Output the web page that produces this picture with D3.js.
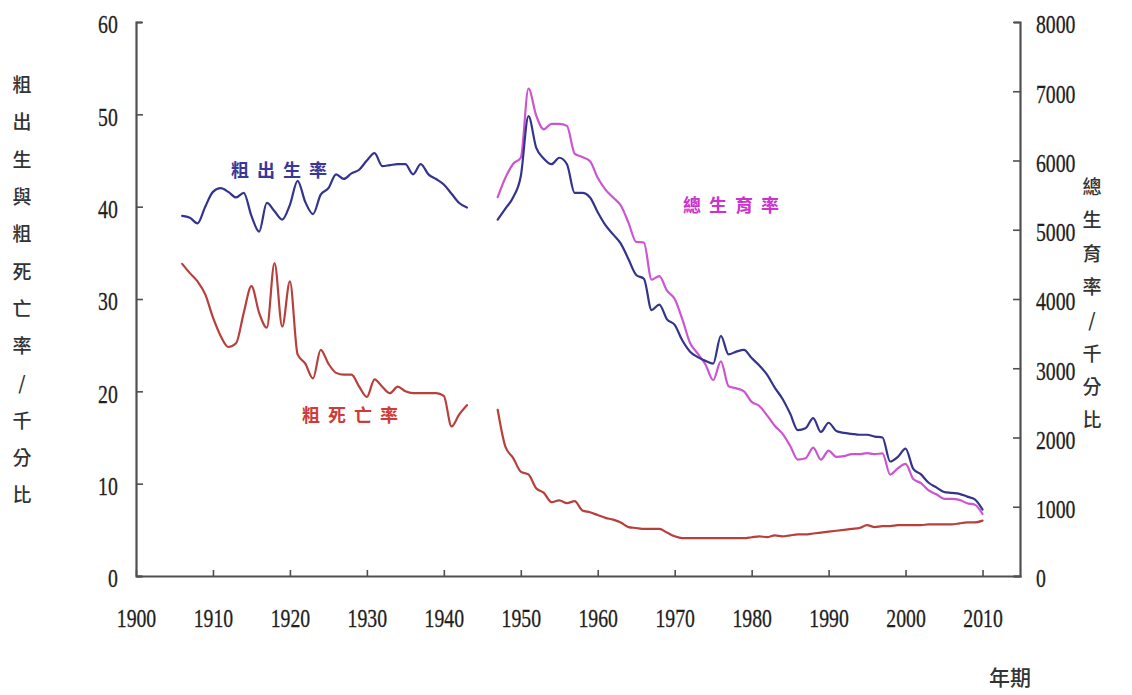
<!DOCTYPE html>
<html><head><meta charset="utf-8">
<script src="https://cdn.jsdelivr.net/npm/d3@7"></script>
<style>
html,body{margin:0;padding:0;background:#fff;}
svg{display:block;}
</style></head>
<body>
<svg id="chart" width="1132" height="695"></svg>
<script>
// ---- data ----
const yearsPre = d3.range(1906, 1944);
const birthPre = [39.0,38.8,38.2,40.0,41.6,42.0,41.6,41.0,41.5,39.0,37.3,40.4,39.5,38.6,40.2,42.8,40.5,39.2,41.3,42.0,43.5,43.0,43.6,44.0,45.0,45.8,44.4,44.5,44.6,44.6,43.5,44.6,43.5,43.0,42.4,41.4,40.4,39.9];
const deathPre = [33.8,32.8,31.9,30.5,28.0,26.0,24.8,25.2,28.5,31.4,28.5,26.9,33.9,27.0,31.9,24.0,23.0,21.4,24.5,23.0,22.0,21.8,21.8,20.5,19.4,21.3,20.5,19.8,20.5,20.0,19.8,19.8,19.8,19.8,19.5,16.2,17.5,18.5];
const yearsPost = d3.range(1947, 2011);
const birthPost = [38.6,39.8,41.0,43.3,49.8,46.4,45.2,44.6,45.3,44.6,41.5,41.5,41.0,39.4,38.0,37.0,36.0,34.3,32.6,32.2,28.8,29.4,27.8,27.2,25.5,24.3,23.7,23.3,23.0,26.0,24.0,24.3,24.5,23.6,22.8,21.8,20.4,19.2,17.6,15.8,16.0,17.1,15.6,16.6,15.7,15.5,15.4,15.3,15.3,15.1,15.0,12.4,12.9,13.8,11.6,11.0,10.1,9.6,9.1,9.0,8.9,8.6,8.3,7.2];
const deathPost = [18.0,14.0,12.8,11.3,11.0,9.5,9.0,8.0,8.2,7.9,8.1,7.1,6.9,6.6,6.3,6.1,5.8,5.3,5.2,5.1,5.1,5.1,4.7,4.3,4.1,4.1,4.1,4.1,4.1,4.1,4.1,4.1,4.1,4.2,4.3,4.2,4.4,4.3,4.4,4.5,4.5,4.6,4.7,4.8,4.9,5.0,5.1,5.2,5.5,5.3,5.4,5.4,5.5,5.5,5.5,5.5,5.6,5.6,5.6,5.6,5.7,5.8,5.8,6.0];
const tfrPost = [5470,5750,5950,6040,7040,6650,6450,6530,6530,6500,6100,6050,5990,5750,5580,5465,5350,5100,4825,4815,4280,4330,4120,4000,3705,3365,3210,3055,2830,3100,2740,2710,2665,2515,2455,2320,2170,2055,1880,1680,1700,1855,1680,1810,1720,1730,1760,1760,1775,1760,1770,1465,1555,1620,1400,1340,1235,1180,1115,1115,1100,1050,1030,895];
const xTicks = d3.range(1900, 2011, 10);
const leftTicks = [0,10,20,30,40,50,60];
const rightTicks = [0,1000,2000,3000,4000,5000,6000,7000,8000];
const leftTitle = "粗出生與粗死亡率/千分比";
const rightTitle = "總生育率/千分比";
const xTitle = "年期";
const labelBirth = "粗出生率", labelDeath = "粗死亡率", labelTfr = "總生育率";

// ---- chart ----
const svg = d3.select("#chart");
svg.append("rect").attr("width",1132).attr("height",695).attr("fill","#fff");
const x = d3.scaleLinear().domain([1900, 2015]).range([136, 1021]);
const yL = d3.scaleLinear().domain([0, 60]).range([576, 22]);
const yR = d3.scaleLinear().domain([0, 8000]).range([576, 22]);
const axisColor = "#505050";
const numFont = "'Liberation Serif','Times New Roman',serif";
const cjk = "'Noto Sans CJK TC','Noto Sans CJK SC',sans-serif";
const fmt = d3.format("d");

function styleAxis(g){
  g.selectAll("path.domain").attr("stroke", axisColor).attr("stroke-width", 2.2);
  g.selectAll(".tick line").attr("stroke", axisColor).attr("stroke-width", 1.6);
  g.selectAll(".tick text").attr("font-family", numFont).attr("font-size", 26)
    .attr("fill", "#1e1e1e").attr("stroke", "#1e1e1e").attr("stroke-width", 0.3)
    .attr("transform", "scale(0.76,1)");
}

const gx = svg.append("g").attr("transform", "translate(0,576)")
  .call(d3.axisBottom(x).tickValues(xTicks).tickSizeInner(-6).tickSizeOuter(0).tickPadding(33).tickFormat(fmt));
styleAxis(gx);
gx.selectAll(".tick text").attr("dy", "0.71em");

const gl = svg.append("g").attr("transform", "translate(136,0)")
  .call(d3.axisLeft(yL).tickValues(leftTicks).tickSizeInner(-7).tickSizeOuter(-6).tickPadding(24).tickFormat(fmt));
styleAxis(gl);
gl.selectAll(".tick text").attr("dy", "0.42em");

const gr = svg.append("g").attr("transform", "translate(1020,0)")
  .call(d3.axisRight(yR).tickValues(rightTicks).tickSizeInner(-7).tickSizeOuter(-6).tickPadding(21).tickFormat(fmt));
styleAxis(gr);
gr.selectAll(".tick text").attr("dy", "0.42em");

// lines
function drawLine(years, vals, y, color){
  const data = years.map((yr,i)=>[yr, vals[i]]);
  svg.append("path").datum(data)
    .attr("fill","none").attr("stroke",color).attr("stroke-width",2.2)
    .attr("stroke-linejoin","round").attr("stroke-linecap","round")
    .attr("d", d3.line().x(d=>x(d[0])).y(d=>y(d[1])).curve(d3.curveMonotoneX));
}
const cBirth = "#34348e", cDeath = "#b8403c", cTfr = "#cc55d0";
drawLine(yearsPost, tfrPost, yR, cTfr);
drawLine(yearsPre, birthPre, yL, cBirth);
drawLine(yearsPost, birthPost, yL, cBirth);
drawLine(yearsPre, deathPre, yL, cDeath);
drawLine(yearsPost, deathPost, yL, cDeath);

// series labels
function seriesLabel(txt, xx, yy, color){
  svg.append("text").attr("x", xx).attr("y", yy).text(txt)
    .attr("font-family", cjk).attr("font-size", 18).attr("font-weight", 700)
    .attr("letter-spacing", 8).attr("fill", color);
}
seriesLabel(labelBirth, 231, 177, "#38389a");
seriesLabel(labelDeath, 302, 422, "#d03a3a");
seriesLabel(labelTfr, 683, 212, "#cc33cc");

// vertical titles
function vTitle(str, cx, y0, step){
  const t = svg.append("text").attr("font-family", cjk).attr("font-size", 19)
    .attr("font-weight", 500).attr("fill", "#333").attr("text-anchor", "middle");
  Array.from(str).forEach((ch,i)=>{
    t.append("tspan").attr("x", cx).attr("y", y0 + i*step).text(ch);
  });
}
vTitle(leftTitle, 22, 92, 37.3);
vTitle(rightTitle, 1092, 194, 33.3);

svg.append("text").attr("x", 1010).attr("y", 685).attr("text-anchor","middle")
  .attr("font-family", cjk).attr("font-size", 21).attr("font-weight", 500).attr("fill","#333").text(xTitle);
</script>
</body></html>
